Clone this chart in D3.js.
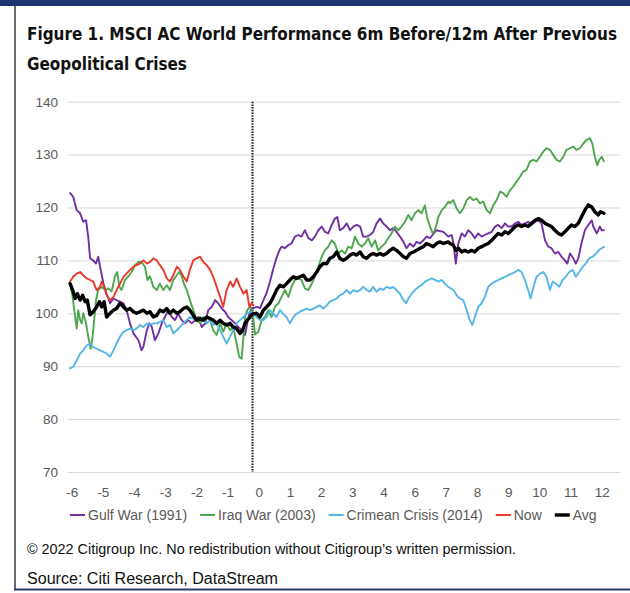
<!DOCTYPE html>
<html><head><meta charset="utf-8">
<script src="https://cdn.jsdelivr.net/npm/d3@7"></script>
<style>
html,body{margin:0;padding:0;background:#fff;}
svg{display:block;}
</style></head><body>
<svg id="chart" width="630" height="593"></svg>
<script>
const titleLines = ["Figure 1. MSCI AC World Performance 6m Before/12m After Previous", "Geopolitical Crises"];
const copyrightText = "\u00A9 2022 Citigroup Inc. No redistribution without Citigroup\u2019s written permission.";
const sourceText = "Source: Citi Research, DataStream";
const yTicks = [70, 80, 90, 100, 110, 120, 130, 140];
const xTickLabels = ["-6","-5","-4","-3","-2","-1","0","1","2","3","4","6","7","8","9","10","11","12"];
const seriesNames = ["Gulf War (1991)", "Iraq War (2003)", "Crimean Crisis (2014)", "Now", "Avg"];
const seriesColors = ["#7030a0", "#4ea64e", "#56b6e6", "#e8392c", "#000000"];
const eventPos = 5.8; // crisis date, in x-axis slot units

// [x-axis slot position, index level]
const gulfWar = [[-0.05,122.7],[0.05,122.0],[0.16,119.5],[0.27,118.9],[0.37,117.3],[0.46,117.6],[0.53,114.5],[0.59,110.4],[0.69,110.0],[0.78,109.4],[0.85,110.7],[0.91,108.8],[1.02,105.6],[1.12,103.7],[1.23,101.9],[1.34,102.8],[1.44,102.5],[1.55,102.2],[1.66,101.9],[1.76,100.6],[1.87,98.1],[1.98,96.2],[2.14,94.9],[2.24,93.0],[2.30,93.7],[2.41,96.8],[2.49,98.1],[2.57,97.4],[2.67,94.9],[2.78,96.2],[2.89,98.1],[2.99,99.3],[3.10,100.6],[3.21,99.3],[3.31,98.7],[3.42,99.9],[3.53,98.7],[3.63,98.1],[3.74,98.7],[3.85,98.1],[3.96,98.7],[4.06,99.3],[4.17,97.4],[4.28,98.1],[4.38,100.6],[4.49,101.2],[4.60,102.5],[4.70,101.9],[4.81,100.9],[4.92,100.3],[5.02,99.3],[5.13,98.7],[5.24,98.1],[5.35,97.4],[5.45,96.8],[5.56,95.9],[5.63,98.1],[5.70,99.9],[5.77,100.9],[5.93,101.2],[6.04,101.0],[6.15,102.5],[6.25,103.8],[6.36,106.0],[6.47,108.5],[6.57,110.5],[6.67,112.0],[6.73,112.6],[6.84,112.3],[6.95,112.9],[7.05,113.2],[7.16,114.5],[7.27,114.8],[7.37,114.5],[7.48,115.7],[7.59,114.2],[7.70,113.8],[7.80,114.5],[7.91,115.7],[8.02,116.4],[8.12,115.4],[8.23,115.1],[8.34,116.7],[8.44,117.9],[8.52,118.2],[8.60,115.7],[8.71,116.1],[8.82,117.0],[8.93,115.7],[9.03,116.4],[9.14,116.7],[9.25,116.4],[9.35,114.5],[9.46,114.5],[9.57,114.8],[9.67,115.4],[9.78,117.0],[9.89,117.9],[9.99,117.0],[10.10,116.4],[10.21,115.7],[10.31,116.1],[10.42,115.4],[10.53,114.5],[10.64,113.5],[10.74,112.3],[10.85,113.2],[10.96,112.6],[11.06,113.5],[11.17,113.2],[11.28,113.8],[11.38,114.5],[11.49,114.2],[11.70,115.7],[11.92,115.4],[12.08,114.5],[12.19,114.8],[12.26,112.6],[12.32,109.4],[12.40,113.2],[12.51,115.1],[12.61,114.5],[12.72,115.7],[12.83,115.1],[12.93,114.2],[13.04,115.1],[13.15,114.5],[13.25,114.8],[13.36,115.1],[13.47,115.4],[13.58,116.4],[13.68,116.7],[13.79,116.1],[13.90,117.0],[14.00,116.4],[14.11,116.4],[14.22,117.0],[14.32,117.3],[14.43,116.7],[14.54,117.0],[14.64,117.3],[14.75,116.7],[14.86,117.3],[14.97,117.6],[15.07,117.0],[15.18,113.8],[15.29,112.6],[15.39,112.3],[15.50,111.3],[15.61,111.6],[15.71,110.7],[15.82,110.0],[15.90,109.4],[15.98,111.3],[16.09,110.4],[16.17,109.4],[16.25,110.4],[16.35,113.2],[16.46,115.7],[16.57,116.7],[16.68,117.6],[16.73,116.4],[16.84,115.1],[16.89,115.7],[16.94,116.4],[17.00,115.7],[17.07,115.7]];

const iraqWar = [[-0.05,105.6],[0.03,103.1],[0.11,99.3],[0.16,97.1],[0.21,100.6],[0.27,98.7],[0.32,98.1],[0.37,100.0],[0.46,98.1],[0.53,95.6],[0.61,93.3],[0.67,95.6],[0.73,99.3],[0.78,102.5],[0.85,104.4],[0.96,105.0],[1.07,104.4],[1.18,104.7],[1.28,104.1],[1.39,107.0],[1.46,107.8],[1.53,105.0],[1.60,104.4],[1.71,106.3],[1.82,107.0],[1.92,107.8],[2.03,109.1],[2.14,109.7],[2.24,109.7],[2.35,108.8],[2.43,106.3],[2.51,107.0],[2.62,105.0],[2.73,104.4],[2.83,105.6],[2.94,104.4],[3.05,105.3],[3.15,104.4],[3.26,106.3],[3.37,107.2],[3.45,107.8],[3.53,107.0],[3.60,105.6],[3.69,104.4],[3.79,102.5],[3.90,100.6],[4.01,98.7],[4.12,98.1],[4.22,99.3],[4.33,98.1],[4.44,98.7],[4.54,96.8],[4.65,95.9],[4.76,98.1],[4.86,96.5],[4.97,98.1],[5.08,96.8],[5.18,97.4],[5.29,94.3],[5.37,91.8],[5.45,91.4],[5.51,95.6],[5.56,99.3],[5.63,100.6],[5.72,101.2],[5.80,100.6],[5.88,96.0],[5.99,96.5],[6.09,98.7],[6.20,99.3],[6.31,100.6],[6.41,99.3],[6.52,101.2],[6.63,101.9],[6.73,103.1],[6.84,104.4],[6.95,103.1],[7.05,105.0],[7.16,106.3],[7.27,106.6],[7.37,106.3],[7.48,104.7],[7.59,104.4],[7.70,105.6],[7.80,107.0],[7.91,108.8],[8.02,110.7],[8.12,111.9],[8.23,112.6],[8.34,113.8],[8.44,113.2],[8.55,111.3],[8.66,111.9],[8.77,111.3],[8.87,112.6],[8.98,112.3],[9.09,114.5],[9.19,113.2],[9.30,112.6],[9.41,113.2],[9.51,114.2],[9.62,112.6],[9.73,113.8],[9.83,111.9],[9.94,112.6],[10.05,113.2],[10.15,114.2],[10.26,115.1],[10.37,116.4],[10.48,115.7],[10.58,116.4],[10.69,117.3],[10.80,118.6],[10.90,117.6],[11.01,118.9],[11.12,119.5],[11.22,118.9],[11.33,120.4],[11.41,117.9],[11.49,116.4],[11.58,115.1],[11.65,115.7],[11.76,118.2],[11.87,119.5],[11.97,120.1],[12.08,121.1],[12.13,120.8],[12.24,121.4],[12.35,119.8],[12.45,118.9],[12.56,119.8],[12.67,121.4],[12.77,122.0],[12.88,121.4],[12.99,121.7],[13.09,120.8],[13.20,121.1],[13.31,119.5],[13.42,118.9],[13.52,120.4],[13.63,121.4],[13.74,123.0],[13.84,122.7],[13.95,122.0],[14.06,123.3],[14.16,123.9],[14.27,124.9],[14.38,125.8],[14.48,126.8],[14.59,127.1],[14.70,128.7],[14.81,129.0],[14.91,128.7],[15.02,129.6],[15.13,130.6],[15.23,131.2],[15.34,130.9],[15.45,129.9],[15.55,129.0],[15.66,128.7],[15.77,129.6],[15.87,130.9],[15.98,131.2],[16.09,131.5],[16.19,130.9],[16.30,131.2],[16.41,132.1],[16.52,132.8],[16.62,133.1],[16.70,132.1],[16.78,129.6],[16.86,128.0],[16.92,129.0],[17.00,129.6],[17.07,128.7]];

const crimeanCrisis = [[-0.05,89.6],[0.05,89.9],[0.16,91.1],[0.27,92.4],[0.37,93.0],[0.48,93.9],[0.59,94.3],[0.69,93.6],[0.80,93.3],[0.91,93.0],[1.02,92.7],[1.12,92.4],[1.23,91.8],[1.34,93.0],[1.44,94.3],[1.55,95.6],[1.66,96.5],[1.76,96.8],[1.87,97.1],[1.98,96.8],[2.08,97.1],[2.19,97.8],[2.30,97.4],[2.41,98.1],[2.51,97.8],[2.62,98.1],[2.73,98.1],[2.83,98.4],[2.94,98.7],[3.05,97.4],[3.15,97.8],[3.26,96.2],[3.37,96.8],[3.47,97.4],[3.58,98.1],[3.69,98.7],[3.79,99.3],[3.90,99.0],[4.01,98.7],[4.12,99.3],[4.22,98.7],[4.33,98.1],[4.44,98.7],[4.54,97.8],[4.65,98.1],[4.76,96.8],[4.86,95.6],[4.97,94.3],[5.08,95.6],[5.18,96.8],[5.29,98.1],[5.40,98.7],[5.51,99.3],[5.61,99.9],[5.72,100.3],[5.83,99.9],[5.93,99.3],[6.04,98.7],[6.15,98.7],[6.25,99.3],[6.36,100.6],[6.47,99.9],[6.57,99.3],[6.68,100.6],[6.79,99.9],[6.89,99.3],[7.00,98.1],[7.11,99.3],[7.21,99.9],[7.32,100.3],[7.43,100.6],[7.54,100.9],[7.64,100.6],[7.75,100.9],[7.86,101.2],[7.96,101.5],[8.07,100.9],[8.18,101.5],[8.28,102.2],[8.39,102.5],[8.50,102.8],[8.60,103.4],[8.71,103.7],[8.82,104.4],[8.93,103.7],[9.03,104.4],[9.14,104.1],[9.25,104.4],[9.35,105.0],[9.46,104.4],[9.57,104.1],[9.67,105.0],[9.78,104.1],[9.89,104.7],[9.99,104.4],[10.10,105.0],[10.21,104.7],[10.31,105.0],[10.42,104.4],[10.53,103.7],[10.64,102.5],[10.72,101.9],[10.80,102.8],[10.90,103.7],[11.01,104.4],[11.12,105.0],[11.22,105.3],[11.33,106.0],[11.44,106.3],[11.54,106.6],[11.65,106.3],[11.76,106.0],[11.87,106.3],[11.97,105.6],[12.08,105.0],[12.24,104.4],[12.35,103.4],[12.45,102.8],[12.56,102.5],[12.67,100.6],[12.77,98.7],[12.85,97.8],[12.93,99.3],[13.04,101.2],[13.15,101.9],[13.25,103.1],[13.36,105.0],[13.47,105.6],[13.58,106.0],[13.68,106.3],[13.79,106.6],[13.90,106.9],[14.00,107.2],[14.11,107.5],[14.22,107.8],[14.32,108.2],[14.43,107.8],[14.54,106.3],[14.64,104.4],[14.72,102.8],[14.81,105.0],[14.91,106.9],[15.02,107.5],[15.13,107.8],[15.23,106.9],[15.34,104.4],[15.43,106.0],[15.53,105.6],[15.64,105.0],[15.75,106.3],[15.85,106.9],[15.96,107.8],[16.07,108.2],[16.17,106.9],[16.28,107.8],[16.39,108.8],[16.49,109.4],[16.60,110.4],[16.71,110.7],[16.82,111.3],[16.92,112.0],[17.00,112.3],[17.07,112.6]];

const nowSeries = [[-0.05,106.0],[0.05,106.9],[0.16,107.5],[0.27,107.8],[0.37,107.2],[0.48,106.6],[0.59,106.3],[0.69,106.0],[0.80,104.4],[0.91,105.0],[0.96,106.0],[1.04,105.0],[1.12,103.4],[1.23,102.5],[1.34,103.1],[1.44,104.4],[1.55,105.6],[1.66,106.9],[1.76,107.5],[1.87,108.2],[1.98,108.8],[2.08,109.1],[2.19,109.4],[2.30,110.0],[2.41,109.4],[2.51,109.7],[2.62,110.4],[2.73,110.0],[2.83,109.1],[2.94,108.2],[3.05,106.6],[3.15,106.0],[3.26,107.2],[3.37,108.8],[3.47,108.2],[3.58,107.0],[3.69,106.0],[3.79,108.2],[3.90,110.0],[4.01,110.4],[4.12,110.7],[4.22,109.7],[4.33,109.1],[4.44,108.2],[4.54,106.9],[4.65,105.0],[4.76,103.1],[4.86,101.2],[4.97,104.4],[5.08,106.0],[5.18,105.0],[5.29,106.6],[5.40,105.0],[5.51,103.7],[5.61,104.4],[5.70,101.2],[5.77,101.9],[5.83,101.5]];

const avgSeries = [[-0.05,105.6],[0.03,104.4],[0.11,102.8],[0.18,103.7],[0.27,102.5],[0.35,103.4],[0.43,102.2],[0.50,102.5],[0.59,99.7],[0.69,100.3],[0.80,101.2],[0.89,102.2],[0.96,101.2],[1.04,102.2],[1.12,99.3],[1.23,100.0],[1.34,100.6],[1.44,100.9],[1.55,101.9],[1.66,101.2],[1.76,100.6],[1.87,100.9],[1.98,100.3],[2.08,100.0],[2.19,100.3],[2.30,100.6],[2.41,100.0],[2.51,100.3],[2.62,99.3],[2.73,99.6],[2.83,100.6],[2.94,100.3],[3.05,100.9],[3.15,100.0],[3.26,100.6],[3.37,100.0],[3.47,100.3],[3.58,100.9],[3.69,101.2],[3.79,100.6],[3.90,99.6],[4.01,98.7],[4.12,99.0],[4.22,98.7],[4.33,99.3],[4.44,99.0],[4.54,98.7],[4.65,98.1],[4.76,98.7],[4.86,98.1],[4.97,97.8],[5.08,98.1],[5.18,97.4],[5.29,97.1],[5.40,96.2],[5.48,96.8],[5.56,98.1],[5.63,98.7],[5.72,99.3],[5.80,99.9],[5.93,100.0],[6.04,99.3],[6.15,100.6],[6.25,101.2],[6.36,101.9],[6.47,103.1],[6.57,104.4],[6.68,105.3],[6.79,105.0],[6.89,105.6],[7.00,106.3],[7.11,106.9],[7.21,106.6],[7.32,106.9],[7.43,107.2],[7.54,106.3],[7.64,106.3],[7.75,106.9],[7.86,107.8],[7.96,108.8],[8.07,109.4],[8.18,109.4],[8.28,110.4],[8.39,110.7],[8.50,111.6],[8.60,110.4],[8.71,110.0],[8.82,110.4],[8.93,111.0],[9.03,111.3],[9.14,111.0],[9.25,111.6],[9.35,110.7],[9.46,110.4],[9.57,111.0],[9.67,111.3],[9.78,111.0],[9.89,111.3],[9.99,111.0],[10.10,111.3],[10.21,111.9],[10.31,112.3],[10.42,111.9],[10.53,111.3],[10.64,110.7],[10.74,110.4],[10.85,111.3],[10.96,111.6],[11.06,111.9],[11.17,112.3],[11.28,112.6],[11.38,113.2],[11.49,112.9],[11.60,112.6],[11.70,113.2],[11.81,113.5],[11.92,113.2],[12.08,113.5],[12.13,113.2],[12.24,112.9],[12.32,111.9],[12.40,112.3],[12.51,111.6],[12.61,111.9],[12.72,111.6],[12.83,111.9],[12.93,111.6],[13.04,112.3],[13.15,112.6],[13.25,112.9],[13.36,113.2],[13.47,113.8],[13.58,114.5],[13.68,115.1],[13.79,114.8],[13.90,115.4],[14.00,115.1],[14.11,115.7],[14.22,116.4],[14.32,116.7],[14.43,116.4],[14.54,116.7],[14.64,116.4],[14.75,117.0],[14.86,117.6],[14.97,117.9],[15.07,117.6],[15.18,117.0],[15.29,116.7],[15.39,116.4],[15.50,115.7],[15.61,115.1],[15.71,114.8],[15.82,115.4],[15.93,116.1],[16.03,116.7],[16.14,116.4],[16.25,117.0],[16.35,118.2],[16.46,119.5],[16.57,120.5],[16.68,120.1],[16.78,119.2],[16.89,118.6],[16.96,119.2],[17.07,118.9]];

const allSeries = [gulfWar, iraqWar, crimeanCrisis, nowSeries, avgSeries];
const strokeWidths = [1.9, 1.9, 1.9, 1.9, 3.4];

const FONT = "'Liberation Sans', Arial, Helvetica, sans-serif";
const NARROW = "'Liberation Sans Narrow', 'Arial Narrow', 'DejaVu Sans Condensed', 'Liberation Sans', sans-serif";
const svg = d3.select("#chart").style("font-family", FONT);

// frame
svg.append("rect").attr("x", 0).attr("y", 0).attr("width", 630).attr("height", 6).attr("fill", "#1d3570");
svg.append("line").attr("x1", 15).attr("x2", 15).attr("y1", 6).attr("y2", 590).attr("stroke", "#3a3a3a").attr("stroke-width", 1.5);
svg.append("line").attr("x1", 14).attr("x2", 630).attr("y1", 589.5).attr("y2", 589.5).attr("stroke", "#2a3c6c").attr("stroke-width", 2);

// title: narrow bold, fitted to the reference width
const TITLE_W = 590;
const tg = svg.append("g").attr("font-family", NARROW).attr("font-weight", "bold").attr("fill", "#111");
const t1 = tg.append("text").attr("x", 27).attr("y", 39.5).attr("font-size", 20).text(titleLines[0]);
const t2 = tg.append("text").attr("x", 27).attr("y", 69.5).attr("font-size", 20).text(titleLines[1]);
let L1 = t1.node().getComputedTextLength();
let fs = 20;
if (L1 > TITLE_W + 8) { fs = Math.max(16, 20 * TITLE_W / L1); }
t1.attr("font-size", fs); t2.attr("font-size", fs);
L1 = t1.node().getComputedTextLength();
const k = TITLE_W / L1;
t1.attr("textLength", TITLE_W).attr("lengthAdjust", "spacingAndGlyphs");
t2.attr("textLength", t2.node().getComputedTextLength() * k).attr("lengthAdjust", "spacingAndGlyphs");

// scales
const x = d3.scaleLinear().domain([0, xTickLabels.length - 1]).range([71.7, 601.7]);
const y = d3.scaleLinear().domain([70, 140]).range([472, 101.7]);
const plotLeft = 68, plotRight = 620;

// y axis + gridlines
const yAxis = svg.append("g").attr("transform", `translate(${plotLeft},0)`)
  .call(d3.axisLeft(y).tickValues(yTicks).tickSize(-(plotRight - plotLeft)).tickPadding(10).tickFormat(d3.format("d")));
yAxis.select(".domain").remove();
yAxis.selectAll(".tick line").attr("stroke", "#d9d9d9").attr("stroke-width", 1);
yAxis.selectAll(".tick text").attr("fill", "#595959").attr("font-size", 13.5).attr("font-family", FONT);

// x axis
const xAxis = svg.append("g").attr("transform", `translate(0,${y(70)})`)
  .call(d3.axisBottom(x).tickValues(d3.range(xTickLabels.length)).tickFormat(i => xTickLabels[i]).tickSize(0).tickPadding(15.5));
xAxis.select(".domain").remove();
xAxis.selectAll(".tick text").attr("fill", "#595959").attr("font-size", 13.5).attr("font-family", FONT);

// event dotted line
svg.append("line").attr("x1", x(eventPos)).attr("x2", x(eventPos)).attr("y1", y(140)).attr("y2", y(70))
  .attr("stroke", "#1a1a1a").attr("stroke-width", 2).attr("stroke-dasharray", "1.5,1.2");

// series lines
const line = d3.line().x(d => x(d[0])).y(d => y(d[1]));
svg.append("g").selectAll("path").data(allSeries).join("path")
  .attr("d", line)
  .attr("fill", "none")
  .attr("stroke", (d, i) => seriesColors[i])
  .attr("stroke-width", (d, i) => strokeWidths[i])
  .attr("stroke-linejoin", "round")
  .attr("stroke-linecap", "round");

// legend
const lg = svg.append("g");
let cx = 70;
const legY = 515;
seriesNames.forEach((name, i) => {
  lg.append("line").attr("x1", cx).attr("x2", cx + 15).attr("y1", legY).attr("y2", legY)
    .attr("stroke", seriesColors[i]).attr("stroke-width", i === 4 ? 3.4 : 2);
  const t = lg.append("text").attr("x", cx + 18).attr("y", legY + 5).attr("font-size", 14).attr("fill", "#595959").text(name);
  cx = cx + 18 + t.node().getComputedTextLength() + 13;
});

// footer
svg.append("text").attr("x", 27).attr("y", 554).attr("font-size", 15).attr("fill", "#111")
  .attr("textLength", 489).attr("lengthAdjust", "spacingAndGlyphs").text(copyrightText);
svg.append("text").attr("x", 27).attr("y", 584).attr("font-size", 16).attr("fill", "#111")
  .attr("textLength", 251).attr("lengthAdjust", "spacingAndGlyphs").text(sourceText);
</script>
</body></html>
